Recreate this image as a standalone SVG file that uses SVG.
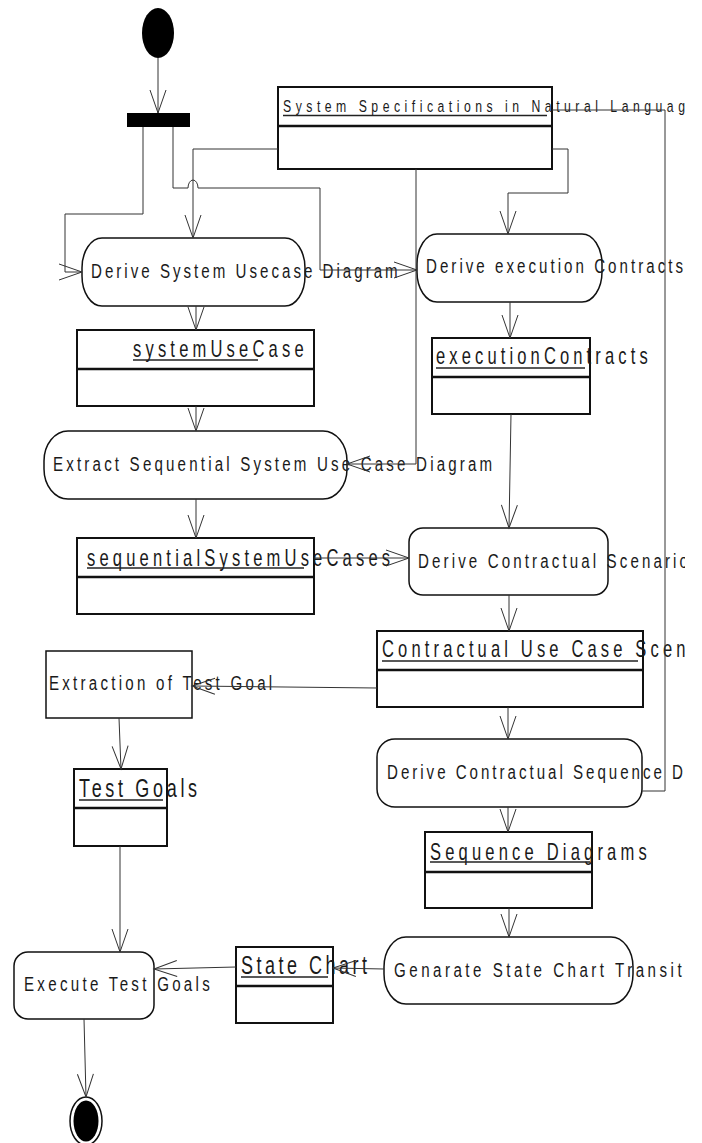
<svg xmlns="http://www.w3.org/2000/svg" width="702" height="1143" viewBox="0 0 702 1143">
  <style>
    .act { fill: #ffffff; stroke: #111111; stroke-width: 1.5; }
    .obj { fill: #ffffff; stroke: #111111; stroke-width: 2; }
    .div { stroke: #111111; stroke-width: 2.5; }
    .ul { stroke: #222222; stroke-width: 1.6; }
    .t { font-family: "Liberation Sans", Arial, sans-serif; fill: #1a1a1a; }
    .ta { font-size: 21px; }
    .ts { font-size: 17px; }
    .to { font-size: 23px; }
    .tb { font-size: 25px; }
    .edge { fill: none; stroke: #333333; stroke-width: 1; marker-end: url(#open); }
    .plain { fill: none; stroke: #333333; stroke-width: 1; }
  </style>
  <defs>
    <marker id="open" viewBox="-24 -10 26 20" refX="0" refY="0" markerWidth="26" markerHeight="20" markerUnits="userSpaceOnUse" orient="auto" overflow="visible">
      <path d="M-23,-8 L0,0 L-23,8" fill="none" stroke="#333333" stroke-width="1"/>
    </marker>
    <clipPath id="page">
      <rect x="0" y="0" width="685" height="1143"/>
    </clipPath>
  </defs>

  <rect x="0" y="0" width="702" height="1143" fill="#ffffff"/>

  <!-- labels use a condensed face: glyphs are squeezed to 72% width, spacing set by textLength -->
  <g clip-path="url(#page)">
    <!-- initial node and fork bar -->
    <g id="start">
      <ellipse cx="158" cy="33" rx="16" ry="25" fill="#000000"/>
    </g>
    <g id="fork">
      <rect x="127" y="113" width="63" height="14" fill="#000000"/>
    </g>

    <!-- specification object -->
    <g id="spec">
      <rect class="obj" x="278" y="87" width="274" height="82"/>
      <line class="div" x1="278" y1="126" x2="552" y2="126"/>
      <text class="t ts" transform="translate(283,112) scale(0.72,1)" textLength="574" lengthAdjust="spacing">System Specifications in Natural Language</text>
      <line class="ul" x1="283" y1="115.5" x2="547" y2="115.5"/>
    </g>

    <!-- activities and objects -->
    <g id="deriveUseCase">
      <rect class="act" x="82" y="238" width="223" height="68" rx="20" ry="30"/>
      <text class="t ta" transform="translate(91,278) scale(0.72,1)" textLength="426" lengthAdjust="spacing">Derive System Usecase Diagram</text>
    </g>

    <g id="deriveContracts">
      <rect class="act" x="417" y="234" width="185" height="68" rx="20" ry="30"/>
      <text class="t ta" transform="translate(426,273) scale(0.72,1)" textLength="357" lengthAdjust="spacing">Derive execution Contracts</text>
    </g>

    <g id="systemUseCase">
      <rect class="obj" x="77" y="330" width="237" height="76"/>
      <line class="div" x1="77" y1="369" x2="314" y2="369"/>
      <text class="t to" transform="translate(133,357) scale(0.72,1)" textLength="237" lengthAdjust="spacing">systemUseCase</text>
      <line class="ul" x1="133" y1="360" x2="258" y2="360"/>
    </g>

    <g id="executionContracts">
      <rect class="obj" x="432" y="338" width="158" height="76"/>
      <line class="div" x1="432" y1="377" x2="590" y2="377"/>
      <text class="t to" transform="translate(436,364) scale(0.72,1)" textLength="294" lengthAdjust="spacing">executionContracts</text>
      <line class="ul" x1="436" y1="368" x2="585" y2="368"/>
    </g>

    <g id="extractSequential">
      <rect class="act" x="44" y="431" width="303" height="68" rx="24" ry="30"/>
      <text class="t ta" transform="translate(53,471) scale(0.72,1)" textLength="610" lengthAdjust="spacing">Extract Sequential System Use Case Diagram</text>
    </g>

    <g id="sequentialUseCases">
      <rect class="obj" x="77" y="538" width="237" height="76"/>
      <line class="div" x1="77" y1="577" x2="314" y2="577"/>
      <text class="t to" transform="translate(87,566) scale(0.72,1)" textLength="421" lengthAdjust="spacing">sequentialSystemUseCases</text>
      <line class="ul" x1="87" y1="568" x2="304" y2="568"/>
    </g>

    <g id="deriveScenarios">
      <rect class="act" x="409" y="528" width="199" height="67" rx="14" ry="14"/>
      <text class="t ta" transform="translate(418,568) scale(0.72,1)" textLength="375" lengthAdjust="spacing">Derive Contractual Scenario</text>
    </g>

    <g id="scenarios">
      <rect class="obj" x="377" y="631" width="266" height="76"/>
      <line class="div" x1="377" y1="670" x2="643" y2="670"/>
      <text class="t to" transform="translate(382,657) scale(0.72,1)" textLength="500" lengthAdjust="spacing">Contractual Use Case Scenarios</text>
      <line class="ul" x1="382" y1="661" x2="638" y2="661"/>
    </g>

    <g id="extractGoals">
      <rect class="obj" x="46" y="651" width="146" height="67" style="stroke-width:1.5"/>
      <text class="t ta" transform="translate(49,690) scale(0.72,1)" textLength="310" lengthAdjust="spacing">Extraction of Test Goal</text>
    </g>

    <g id="deriveSequence">
      <rect class="act" x="377" y="739" width="265" height="68" rx="18" ry="18"/>
      <text class="t ta" transform="translate(387,779) scale(0.72,1)" textLength="500" lengthAdjust="spacing">Derive Contractual Sequence Diagram</text>
    </g>

    <g id="testGoals">
      <rect class="obj" x="74" y="769" width="93" height="77"/>
      <line class="div" x1="74" y1="808" x2="167" y2="808"/>
      <text class="t tb" transform="translate(79,797) scale(0.72,1)" textLength="164" lengthAdjust="spacing">Test Goals</text>
      <line class="ul" x1="79" y1="800" x2="163" y2="800"/>
    </g>

    <g id="sequenceDiagrams">
      <rect class="obj" x="425" y="832" width="167" height="76"/>
      <line class="div" x1="425" y1="872" x2="592" y2="872"/>
      <text class="t to" transform="translate(430,860) scale(0.72,1)" textLength="301" lengthAdjust="spacing">Sequence Diagrams</text>
      <line class="ul" x1="430" y1="862" x2="590" y2="862"/>
    </g>

    <g id="generateTransitions">
      <rect class="act" x="384" y="937" width="249" height="67" rx="22" ry="30"/>
      <text class="t ta" transform="translate(394,977) scale(0.72,1)" textLength="442" lengthAdjust="spacing">Genarate State Chart Transition</text>
    </g>

    <g id="stateChart">
      <rect class="obj" x="236" y="947" width="97" height="76"/>
      <line class="div" x1="236" y1="986" x2="333" y2="986"/>
      <text class="t tb" transform="translate(241,974) scale(0.72,1)" textLength="175" lengthAdjust="spacing">State Chart</text>
      <line class="ul" x1="241" y1="977" x2="328" y2="977"/>
    </g>

    <g id="executeGoals">
      <rect class="act" x="14" y="952" width="140" height="67" rx="14" ry="14"/>
      <text class="t ta" transform="translate(24,991) scale(0.72,1)" textLength="258" lengthAdjust="spacing">Execute Test Goals</text>
    </g>

    <g id="end">
      <ellipse cx="86" cy="1121" rx="16" ry="24" fill="#ffffff" stroke="#111111" stroke-width="1.5"/>
      <ellipse cx="86" cy="1121" rx="12.5" ry="20.5" fill="#000000"/>
    </g>

    <!-- control and object flows -->
    <g id="connectors">
      <path class="edge" d="M158,58 L158,113"/>
      <path class="edge" d="M143,127 L143,214 L65,214 L65,272 L82,272"/>
      <path class="edge" d="M173,127 L173,188 L188,188 A5,8 0 0 1 198,188 L320,188 L320,270 L417,270"/>
      <path class="edge" d="M278,149 L193,149 L193,238"/>
      <path class="edge" d="M552,149 L568,149 L568,193 L508,193 L508,234"/>
      <path class="edge" d="M416,169 L416,464 L347,464"/>
      <path class="plain" d="M552,110 L665,110 L665,791 L642,791"/>
      <path class="edge" d="M196,306 L196,330"/>
      <path class="edge" d="M196,406 L196,431"/>
      <path class="edge" d="M196,499 L196,538"/>
      <path class="edge" d="M314,558 L409,558"/>
      <path class="edge" d="M510,302 L510,338"/>
      <path class="edge" d="M511,414 L509,528"/>
      <path class="edge" d="M509,595 L509,631"/>
      <path class="edge" d="M377,688 L192,686"/>
      <path class="edge" d="M508,707 L508,739"/>
      <path class="edge" d="M508,807 L508,832"/>
      <path class="edge" d="M509,908 L509,937"/>
      <path class="edge" d="M384,969 L333,968"/>
      <path class="edge" d="M236,967 L154,969"/>
      <path class="edge" d="M119,718 L121,769"/>
      <path class="edge" d="M120,846 L120,952"/>
      <path class="edge" d="M84,1019 L86,1097"/>
    </g>
  </g>
</svg>
